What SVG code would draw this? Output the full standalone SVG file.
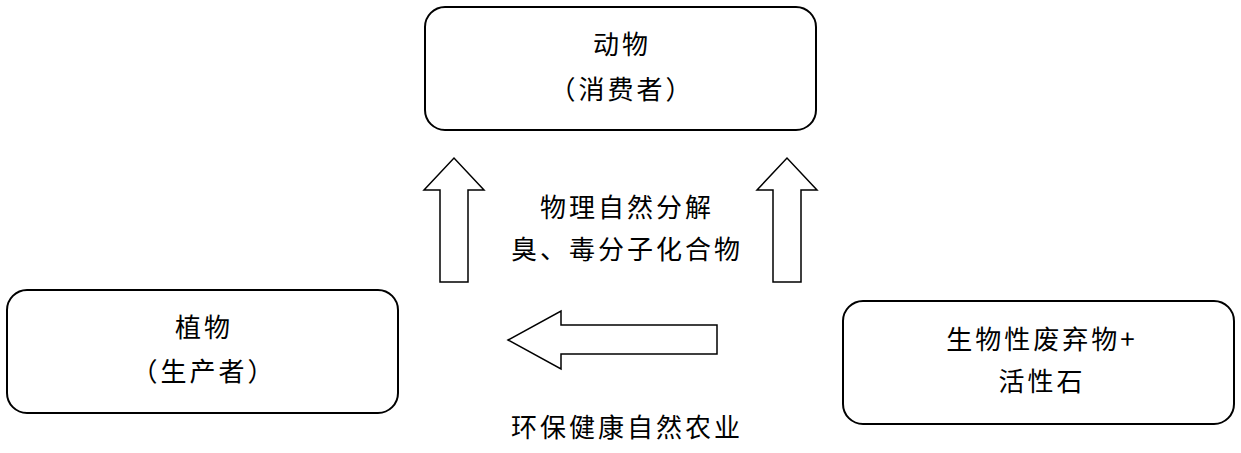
<svg xmlns="http://www.w3.org/2000/svg" width="1241" height="453" viewBox="0 0 1241 453">
<style>
.box{fill:#fff;stroke:#000;stroke-width:2}
.arr{fill:#fff;stroke:#000;stroke-width:1.5}
text{font-family:"Noto Sans CJK SC","Liberation Sans",sans-serif;font-size:26px;fill:#000;text-anchor:middle;letter-spacing:3px}
</style>
<rect width="1241" height="453" fill="#fff"/>
<g id="animal"><rect class="box" x="425" y="7" width="391" height="123" rx="20"/>
<text x="622" y="54">动物</text><text x="622" y="99">（消费者）</text></g>
<g id="plant"><rect class="box" x="7" y="290" width="391" height="123" rx="20"/>
<text x="204" y="337">植物</text><text x="204" y="381">（生产者）</text></g>
<g id="waste"><rect class="box" x="843" y="301" width="391" height="123" rx="20"/>
<text x="1042" y="349">生物性废弃物+</text><text x="1042" y="391">活性石</text></g>
<g id="connectors">
<polygon class="arr" points="440,282 468,282 468,190 484,190 454,158 424,190 440,190"/>
<polygon class="arr" points="773,282 801,282 801,190 817,190 787,158 757,190 773,190"/>
<polygon class="arr" points="717,325 717,354 561,354 561,369 508,340 561,311 561,325"/>
</g>
<g id="labels">
<text x="627" y="217">物理自然分解</text>
<text x="627" y="259">臭、毒分子化合物</text>
<text x="627" y="437">环保健康自然农业</text>
</g>
</svg>
